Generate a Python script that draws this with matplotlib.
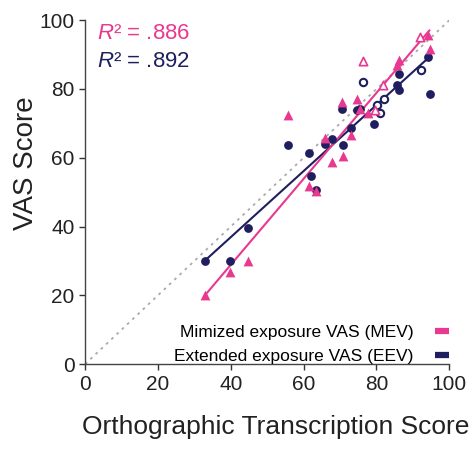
import numpy as np
import matplotlib
matplotlib.use("Agg")
import matplotlib.pyplot as plt
from matplotlib.lines import Line2D

plt.rcParams['font.family'] = ['Liberation Sans', 'DejaVu Sans']
plt.rcParams['mathtext.fontset'] = 'custom'
plt.rcParams['mathtext.rm'] = 'Liberation Sans'
plt.rcParams['mathtext.it'] = 'Liberation Sans:italic'

pink = '#e8388f'
navy = '#1f1f5f'

# extended exposure (EEV), filled circles
eev_x = [32.9, 39.8, 44.7, 55.7, 61.6, 62.1, 63.4, 65.9, 67.9, 70.8,
         70.5, 72.9, 74.6, 75.5, 79.4, 86.3, 85.7, 86.3, 94.2, 94.7]
eev_y = [30.1, 30.1, 39.7, 63.8, 61.3, 54.6, 50.5, 63.9, 65.5, 63.8,
         74.1, 68.8, 73.9, 74.1, 69.7, 84.5, 81.3, 79.6, 89.4, 78.5]
# EEV open circles
eev_open_x = [76.2, 80.1, 82.0, 81.0, 92.1]
eev_open_y = [82.1, 75.4, 77.2, 72.9, 85.5]

# minimized exposure (MEV), filled triangles
mev_x = [32.9, 39.8, 44.7, 55.7, 61.6, 63.4, 65.9, 67.9, 70.8, 70.5,
         72.9, 74.6, 75.5, 77.8, 86.3, 85.7, 94.2, 94.7]
mev_y = [20.0, 26.9, 30.1, 72.3, 51.7, 50.2, 65.8, 58.7, 60.6, 76.2,
         66.7, 77.2, 74.2, 72.9, 88.4, 86.9, 95.7, 91.6]
# MEV open triangles
mev_open_x = [92.0, 76.2, 81.9, 79.6]
mev_open_y = [95.0, 88.1, 81.3, 73.8]

# regression lines
mev_fit_x = [32.9, 94.5]
mev_fit_y = [20.0, 97.0]
eev_fit_x = [32.9, 94.2]
eev_fit_y = [30.1, 89.0]

fig = plt.figure(figsize=(4.7, 4.49), dpi=100)
ax = fig.add_axes([0.181, 0.189, 0.775, 0.766])

ax.plot([0, 100], [0, 100], color='#aaaaaa', ls=(0, (1.5, 2.5)), lw=1.3, zorder=1)
ax.plot(eev_fit_x, eev_fit_y, color=navy, lw=1.5, zorder=2)
ax.plot(mev_fit_x, mev_fit_y, color=pink, lw=1.5, zorder=2)

ax.scatter(eev_x, eev_y, s=40, marker='o', color=navy, zorder=3, linewidths=0)
ax.scatter(eev_open_x, eev_open_y, s=28, marker='o', facecolor='white',
           edgecolor=navy, linewidths=1.5, zorder=3)
ax.scatter(mev_x, mev_y, s=50, marker='^', color=pink, zorder=3, linewidths=0)
ax.scatter(mev_open_x, mev_open_y, s=36, marker='^', facecolor='white',
           edgecolor=pink, linewidths=1.2, zorder=3)

ax.text(3.3, 94.5, '$R$² = .886', color=pink, fontsize=16, va='baseline')
ax.text(3.3, 86.3, '$R$² = .892', color=navy, fontsize=16, va='baseline')

ax.set_xlim(0, 100)
ax.set_ylim(0, 100)
ax.set_xticks(range(0, 101, 20))
ax.set_yticks(range(0, 101, 20))
ax.tick_params(labelsize=15, length=4, width=1, colors='#333333', labelcolor='#222222')
for s in ['top', 'right']:
    ax.spines[s].set_visible(False)
for s in ['left', 'bottom']:
    ax.spines[s].set_color('#444444')
    ax.spines[s].set_linewidth(1)

ax.set_xlabel('Orthographic Transcription Score', fontsize=19, color='#222222')
ax.xaxis.set_label_coords(0.523, -0.148)
ax.set_ylabel('VAS Score', fontsize=20, color='#222222')
ax.yaxis.set_label_coords(-0.126, 0.583)

handles = [Line2D([], [], color=pink, lw=4.5, solid_capstyle='butt'),
           Line2D([], [], color=navy, lw=4.5, solid_capstyle='butt')]
ax.legend(handles, ['Mimized exposure VAS (MEV)', 'Extended exposure VAS (EEV)'],
          loc='lower right', frameon=False, markerfirst=False, fontsize=12.5,
          handlelength=0.8, handletextpad=1.25, labelspacing=0.5,
          borderpad=0, borderaxespad=0, bbox_to_anchor=(1.0, 0.0))

fig.savefig('out.png', dpi=100)
